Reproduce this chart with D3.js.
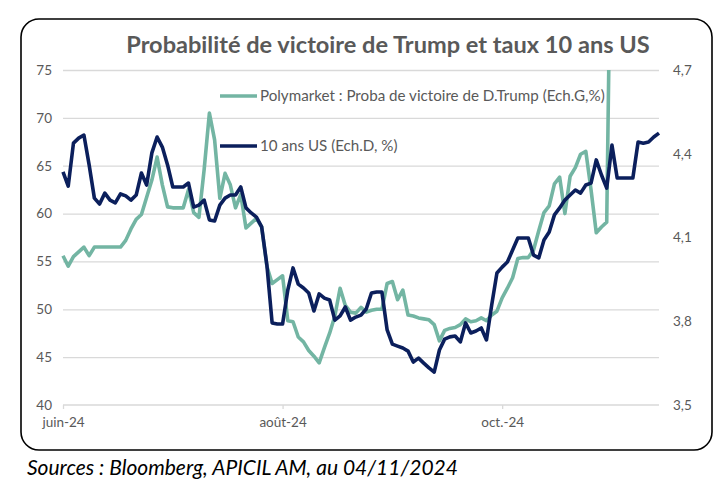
<!DOCTYPE html>
<html>
<head>
<meta charset="utf-8">
<script src="https://cdn.jsdelivr.net/npm/d3@7"></script>
<style>
  html, body { margin: 0; padding: 0; background: #ffffff; }
  svg { display: block; }
</style>
</head>
<body>
<svg id="chart" width="721" height="489"></svg>
<script>
// ---------------- DATA ----------------
const title = "Probabilité de victoire de Trump et taux 10 ans US";
const source = "Sources : Bloomberg, APICIL AM, au 04/11/2024";
const seriesNames = ["Polymarket : Proba de victoire de D.Trump (Ech.G,%)", "10 ans US (Ech.D, %)"];

// x categories: trading-day index (0 = end of May 2024)
const xLabels = ["juin-24", "août-24", "oct.-24"];
const xLabelIndex = [0, 42, 84];

const leftTicks = [40, 45, 50, 55, 60, 65, 70, 75];
const rightTicks = [3.5, 3.8, 4.1, 4.4, 4.7];

// Polymarket probability (%), left axis
const polymarket = [
  55.6, 54.5, 55.5, 56.0, 56.5, 55.6, 56.5, 56.5, 56.5, 56.5,
  56.5, 56.5, 57.2, 58.4, 59.4, 59.9, 61.7, 63.5, 65.9, 63.0,
  60.7, 60.6, 60.6, 60.6, 62.5, 60.1, 59.6, 64.6, 70.5, 67.7,
  61.6, 64.2, 63.0, 60.6, 62.0, 58.5, 59.0, 59.5, 58.6, 54.5,
  52.7, 53.1, 53.5, 48.8, 48.7, 47.1, 46.6, 45.7, 45.1, 44.4,
  46.0, 47.5, 49.3, 52.2, 50.4, 49.7, 49.6, 50.2, 49.7, 49.9,
  50.0, 50.0, 52.7, 52.9, 51.0, 52.0, 49.4, 49.3, 49.1, 49.0,
  48.9, 48.4, 46.7, 47.8, 48.0, 48.1, 48.4, 49.0, 48.7, 48.8,
  49.1, 48.8, 49.4, 49.8, 51.2, 52.2, 53.3, 55.3, 55.4, 55.4,
  56.2, 58.2, 60.1, 60.8, 63.1, 63.8, 60.0, 63.9, 64.8, 66.2,
  66.5, 62.5, 58.0, 58.6, 59.1, 100.0, null, null, null, null,
  null, null, null, null, null
];

// US 10-year yield (%), right axis
const us10y = [
  4.335, 4.284, 4.438, 4.456, 4.467, 4.360, 4.241, 4.220, 4.259, 4.234,
  4.224, 4.256, 4.249, 4.234, 4.252, 4.331, 4.288, 4.403, 4.460, 4.424,
  4.360, 4.281, 4.281, 4.281, 4.295, 4.209, 4.216, 4.234, 4.163, 4.159,
  4.216, 4.241, 4.252, 4.252, 4.281, 4.206, 4.188, 4.173, 4.138, 4.001,
  3.794, 3.790, 3.790, 3.912, 3.991, 3.933, 3.919, 3.901, 3.837, 3.898,
  3.883, 3.876, 3.804, 3.819, 3.851, 3.804, 3.815, 3.822, 3.844, 3.901,
  3.905, 3.905, 3.769, 3.718, 3.711, 3.704, 3.693, 3.654, 3.668, 3.650,
  3.633, 3.618, 3.697, 3.736, 3.744, 3.747, 3.726, 3.794, 3.758, 3.765,
  3.776, 3.733, 3.858, 3.973, 3.994, 4.012, 4.055, 4.098, 4.098, 4.098,
  4.037, 4.027, 4.091, 4.120, 4.181, 4.206, 4.234, 4.252, 4.270, 4.259,
  4.288, 4.295, 4.378, 4.324, 4.277, 4.431, 4.313, 4.313, 4.313, 4.313,
  4.442, 4.438, 4.442, 4.460, 4.474
];

// ---------------- LAYOUT ----------------
const svg = d3.select("#chart");
const plot = { left: 63, right: 659, top: 70, bottom: 405 };
const greenColor = "#73b5a3";
const navyColor = "#0b1f5c";
const textGrey = "#595959";
const gridGrey = "#d9d9d9";
const fontFam = "Lato, 'Open Sans', sans-serif";

const x = d3.scaleLinear().domain([0, us10y.length - 1]).range([plot.left, plot.right]);
const yL = d3.scaleLinear().domain([40, 75]).range([plot.bottom, plot.top]);
const yR = d3.scaleLinear().domain([3.5, 4.7]).range([plot.bottom, plot.top]);
const frLocale = d3.formatLocale({ decimal: ",", thousands: " ", grouping: [3], currency: ["", " €"] });

// outer rounded frame
svg.append("rect")
  .attr("x", 21).attr("y", 19).attr("width", 691).attr("height", 431)
  .attr("rx", 18).attr("ry", 18)
  .attr("fill", "#fff").attr("stroke", "#000").attr("stroke-width", 1.6);

// title (fit to width)
const t = svg.append("text")
  .attr("x", 388).attr("y", 53)
  .attr("text-anchor", "middle")
  .attr("font-family", fontFam).attr("font-weight", 700)
  .attr("font-size", 21).attr("fill", textGrey)
  .text(title);
const tw = t.node().getComputedTextLength();
t.attr("font-size", 21 * 524 / tw);

// gridlines (left axis)
const grid = svg.append("g")
  .attr("transform", `translate(${plot.left},0)`)
  .call(d3.axisLeft(yL).tickValues(leftTicks.slice(1)).tickSize(-(plot.right - plot.left)).tickFormat(""));
grid.select(".domain").remove();
grid.selectAll("line").attr("stroke", gridGrey).attr("stroke-width", 1.3);

// left axis labels
const la = svg.append("g")
  .attr("transform", `translate(${plot.left - 11},0)`)
  .call(d3.axisLeft(yL).tickValues(leftTicks).tickSize(0).tickPadding(0));
la.select(".domain").remove();
la.selectAll("text").attr("font-family", fontFam).attr("font-size", 13.5).attr("fill", textGrey);

// right axis labels
const ra = svg.append("g")
  .attr("transform", `translate(${plot.right + 14},0)`)
  .call(d3.axisRight(yR).tickValues(rightTicks).tickSize(0).tickPadding(0).tickFormat(frLocale.format(".1f")));
ra.select(".domain").remove();
ra.selectAll("text").attr("font-family", fontFam).attr("font-size", 13.5).attr("fill", textGrey);

// bottom axis
const xa = svg.append("g")
  .attr("transform", `translate(0,${plot.bottom})`)
  .call(d3.axisBottom(x).tickValues(xLabelIndex).tickSize(4).tickPadding(8)
    .tickFormat((d, i) => xLabels[i]));
xa.select(".domain").attr("stroke", gridGrey).attr("stroke-width", 1.3)
  .attr("d", `M${plot.left},0H${plot.right}`);
xa.selectAll("line").attr("stroke", gridGrey).attr("stroke-width", 1.3);
xa.selectAll("text").attr("font-family", fontFam).attr("font-size", 13.5).attr("fill", textGrey);

// clip
svg.append("clipPath").attr("id", "plotclip")
  .append("rect").attr("x", plot.left - 5).attr("y", plot.top)
  .attr("width", plot.right - plot.left + 10).attr("height", plot.bottom - plot.top + 5);

const lineL = d3.line().defined(d => d != null).x((d, i) => x(i)).y(d => yL(d));
const lineR = d3.line().defined(d => d != null).x((d, i) => x(i)).y(d => yR(d));

const lines = svg.append("g").attr("clip-path", "url(#plotclip)");
lines.append("path").datum(polymarket)
  .attr("d", lineL).attr("fill", "none")
  .attr("stroke", greenColor).attr("stroke-width", 3.6).attr("stroke-linejoin", "round");
lines.append("path").datum(us10y)
  .attr("d", lineR).attr("fill", "none")
  .attr("stroke", navyColor).attr("stroke-width", 3.6).attr("stroke-linejoin", "round");

// legend
const legend = svg.append("g");
const legY = [96, 146];
const legColors = [greenColor, navyColor];
seriesNames.forEach((name, i) => {
  legend.append("line")
    .attr("x1", 220).attr("x2", 257).attr("y1", legY[i]).attr("y2", legY[i])
    .attr("stroke", legColors[i]).attr("stroke-width", 3.6);
  legend.append("text")
    .attr("x", 260).attr("y", legY[i] + 5)
    .attr("font-family", fontFam).attr("font-size", 14).attr("fill", textGrey)
    .text(name);
});
const lt = legend.select("text").node();
const lw = lt.getComputedTextLength();
legend.selectAll("text").attr("font-size", 14 * 345 / lw);

// source (fit to width)
const s = svg.append("text")
  .attr("x", 27).attr("y", 475)
  .attr("font-family", fontFam).attr("font-style", "italic")
  .attr("font-size", 18).attr("fill", "#000")
  .text(source);
const sw = s.node().getComputedTextLength();
s.attr("font-size", Math.min(21, 18 * 435 / sw));
</script>
</body>
</html>
